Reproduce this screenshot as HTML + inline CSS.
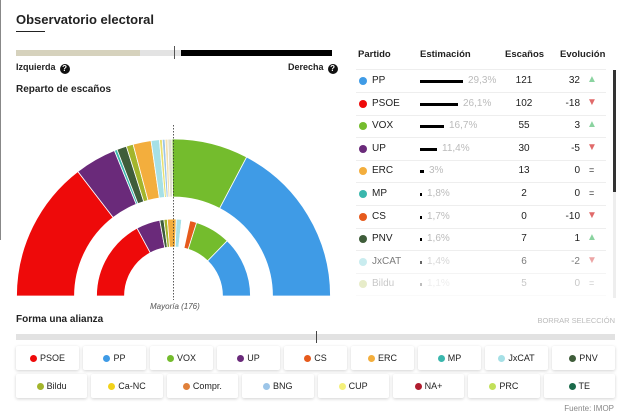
<!DOCTYPE html>
<html><head><meta charset="utf-8"><style>
body{margin:0;width:630px;height:420px;background:#fff;font-family:"Liberation Sans",sans-serif;position:relative;overflow:hidden;color:#222}
.a{position:absolute;white-space:nowrap}
.th{font-size:9.5px;font-weight:bold;top:49px}
.row{position:absolute;left:356px;width:250px;height:22px;border-bottom:1px solid #eee;font-size:10px}
.row span{position:absolute;top:5px}
.dot{width:8px;height:8px;border-radius:50%;position:absolute;left:3px;top:7px}
.btn{position:absolute;width:62px;height:24px;background:#fff;box-shadow:0 1px 3px rgba(0,0,0,.18);border-radius:2px;font-size:9px;text-align:center;line-height:24px}
.btn i{display:inline-block;width:7px;height:7px;border-radius:50%;margin-right:3px;vertical-align:-0.5px}
.q{display:inline-block;width:10px;height:10px;border-radius:50%;background:#111;color:#fff;font-size:8px;line-height:10px;text-align:center;font-weight:bold;vertical-align:-1px;margin-left:4px}
</style></head><body>
<div class="a" style="left:0;top:0;width:1px;height:240px;background:#888"></div>
<div class="a" style="left:16px;top:12px;font-size:13px;font-weight:bold">Observatorio electoral</div>
<div class="a" style="left:16px;top:31px;width:29px;height:1px;background:#222"></div>
<div class="a" style="left:16px;top:50px;width:124px;height:6px;background:#d6d2bd"></div>
<div class="a" style="left:140px;top:50px;width:41px;height:6px;background:#e3e3e3"></div>
<div class="a" style="left:174px;top:46px;width:1px;height:13px;background:#555"></div>
<div class="a" style="left:181px;top:50px;width:151px;height:6px;background:#000"></div>
<div class="a" style="left:16px;top:62px;font-size:9px;font-weight:bold">Izquierda<span class="q">?</span></div>
<div class="a" style="left:288px;top:62px;font-size:9px;font-weight:bold">Derecha<span class="q">?</span></div>
<div class="a" style="left:16px;top:84px;font-size:10px;font-weight:bold">Reparto de escaños</div>
<svg class="a" style="left:0;top:0" width="350" height="320" id="s"></svg>
<div class="a" style="left:150px;top:302px;font-size:8px;font-style:italic;color:#555">Mayoría (176)</div>

<div class="a th" style="left:358px">Partido</div>
<div class="a th" style="left:420px">Estimación</div>
<div class="a th" style="left:505px">Escaños</div>
<div class="a th" style="left:560px">Evolución</div>
<div class="a" style="left:356px;top:69px;width:250px;height:1px;background:#eee"></div>
<div id="rows"></div>
<div class="a" style="left:613px;top:70px;width:3px;height:228px;background:#eee"></div>
<div class="a" style="left:613px;top:70px;width:3px;height:122px;background:#333"></div>

<div class="a" style="left:16px;top:314px;font-size:10px;font-weight:bold">Forma una alianza</div>
<div class="a" style="right:15px;top:316px;font-size:7.5px;color:#bbb">BORRAR SELECCIÓN</div>
<div class="a" style="left:16px;top:334px;width:599px;height:6px;background:#e2e2e2"></div>
<div class="a" style="left:316px;top:331px;width:1px;height:12px;background:#444"></div>
<div id="btns"></div>
<div class="a" style="right:16px;top:404px;font-size:8px;color:#888">Fuente: IMOP</div>
<script>
var cx=173.5,cy=296;
function arc(R,r,a0,a1,c){function p(rr,a){return (cx+rr*Math.cos(a)).toFixed(2)+","+(cy-rr*Math.sin(a)).toFixed(2)}
return '<path d="M'+p(R,a0)+' A'+R+','+R+' 0 0 1 '+p(R,a1)+' L'+p(r,a1)+' A'+r+','+r+' 0 0 0 '+p(r,a0)+'Z" fill="'+c+'" stroke="#fff" stroke-width="0.8"/>';}
function ring(R,r,d){var t=0,tot=350,h='';d.forEach(function(x){var a0=Math.PI*(1-t/tot);t+=x[0];var a1=Math.PI*(1-t/tot);h+=arc(R,r,a0,a1,x[1]);});return h;}
var outer=[[102,'#ee0a0a'],[30,'#6a2a7a'],[2,'#3ab7ad'],[7,'#3f5d3a'],[5,'#a3b52c'],[13,'#f3ae3d'],[6,'#a6e0e6'],[2,'#e8e070'],[2,'#9cc5e8'],[2,'#f4e0b0'],[3,'#e0e0d0'],[55,'#74bc2d'],[121,'#3f9be6']];
var inner=[[120,'#ee0a0a'],[35,'#6a2a7a'],[6,'#3f5d3a'],[5,'#a3b52c'],[13,'#f3ae3d'],[8,'#a6e0e6'],[12,'#ffffff'],[10,'#e65a1c'],[52,'#74bc2d'],[89,'#3f9be6']];
document.getElementById('s').innerHTML=ring(157,99,outer)+ring(77,49,inner)+'<line x1="173.5" y1="125" x2="173.5" y2="300" stroke="#333" stroke-dasharray="1.5,1.5" stroke-width="0.8"/>';
var rows=[['PP','#3f9be6',43,'29,3%',121,32,1],['PSOE','#ee0a0a',38,'26,1%',102,-18,-1],['VOX','#74bc2d',24,'16,7%',55,3,1],['UP','#6a2a7a',17,'11,4%',30,-5,-1],['ERC','#f3ae3d',4,'3%',13,0,0],['MP','#3ab7ad',2,'1,8%',2,0,0],['CS','#e65a1c',2,'1,7%',0,-10,-1],['PNV','#3f5d3a',2,'1,6%',7,1,1],['JxCAT','#a6e0e6',2,'1,4%',6,-2,-1],['Bildu','#a3b52c',2,'1,1%',5,0,0]];
var h='';rows.forEach(function(r,i){var y=70+i*22.6;var op=i==9?'opacity:.25;':(i==8?'opacity:.6;':'');
var ar=r[6]>0?'<span style="left:231px;top:4px;color:#8ad3a0;font-size:10px">▲</span>':r[6]<0?'<span style="left:231px;top:4px;color:#e06a6a;font-size:10px">▼</span>':'<span style="left:233px;font-size:9px">=</span>';
h+='<div class="row" style="top:'+y+'px;'+op+'"><div class="dot" style="background:'+r[1]+'"></div><span style="left:16px">'+r[0]+'</span><div style="position:absolute;left:64px;top:'+(10)+'px;width:'+r[2]+'px;height:3px;background:#000"></div><span style="left:'+(69+r[2])+'px;color:#bbb">'+r[3]+'</span><span style="left:150px;width:36px;text-align:center">'+r[4]+'</span><span style="right:26px">'+r[5]+'</span>'+ar+'</div>';});
document.getElementById('rows').innerHTML=h;
var b=[['PSOE','#ee0a0a'],['PP','#3f9be6'],['VOX','#74bc2d'],['UP','#6a2a7a'],['CS','#e65a1c'],['ERC','#f3ae3d'],['MP','#3ab7ad'],['JxCAT','#a6e0e6'],['PNV','#3f5d3a'],['Bildu','#a3b52c'],['Ca-NC','#f2d21a'],['Compr.','#e0803a'],['BNG','#9cc5e8'],['CUP','#f4f07a'],['NA+','#b01c2e'],['PRC','#c2e05a'],['TE','#1a6a4a']];
h='';b.forEach(function(x,i){var rr=i<9?0:1,c=rr?i-9:i;var step=rr?603/8:603/9;var left=16+c*step;var w=step-4;
h+='<div class="btn" style="left:'+left+'px;top:'+(346+rr*28)+'px;width:'+w+'px"><i style="background:'+x[1]+'"></i>'+x[0]+'</div>';});
document.getElementById('btns').innerHTML=h;
</script>
</body></html>
